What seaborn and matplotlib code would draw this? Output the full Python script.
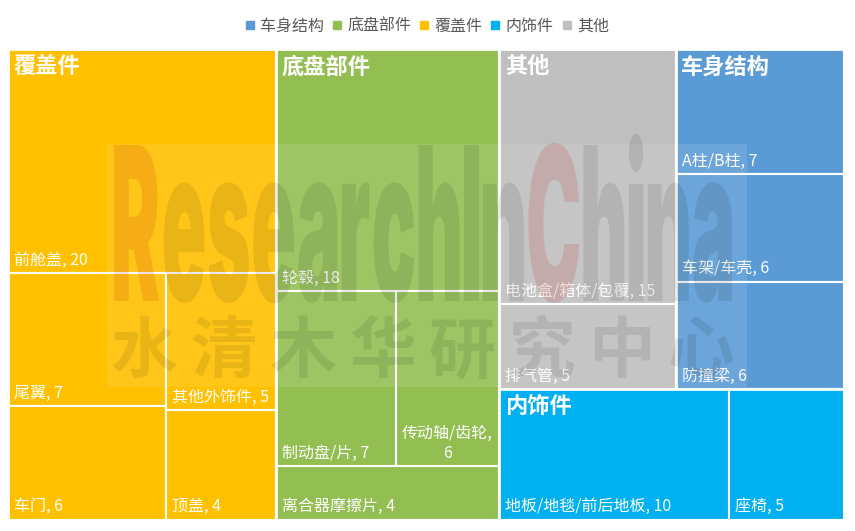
import matplotlib
matplotlib.use("Agg")
import matplotlib.pyplot as plt
import seaborn as sns
import pandas as pd
from matplotlib import font_manager
from matplotlib.patches import Rectangle, PathPatch
from matplotlib.lines import Line2D
from matplotlib.textpath import TextPath
from matplotlib.font_manager import FontProperties
from matplotlib.transforms import Affine2D

# categories (legend order) and their colours
categories = ["车身结构", "底盘部件", "覆盖件", "内饰件", "其他"]
cat_colors = ["#5B9BD5", "#93BF52", "#FFC000", "#00B0F0", "#BFBFBF"]

# leaf parts, their category and count
parts = ["A柱/B柱", "车架/车壳", "防撞梁",
         "轮毂", "制动盘/片", "传动轴/齿轮", "离合器摩擦片",
         "前舱盖", "尾翼", "其他外饰件", "车门", "顶盖",
         "地板/地毯/前后地板", "座椅",
         "电池盒/箱体/包覆", "排气管"]
part_cat = ["车身结构"] * 3 + ["底盘部件"] * 4 + ["覆盖件"] * 5 + ["内饰件"] * 2 + ["其他"] * 2
counts = [7, 6, 6, 18, 7, 6, 4, 20, 7, 5, 6, 4, 10, 5, 15, 5]

df = pd.DataFrame({"part": parts, "cat": part_cat, "n": counts})

# layout area (in layout units, close to the plot's aspect)
W, H = 1.81, 1.0


def worst(row, side):
    s = sum(row)
    return max(max(side * side * r / (s * s), s * s / (side * side * r)) for r in row)


def squarify(values, x, y, dx, dy):
    # values must be sorted descending; returns one rect per value
    tot = sum(values)
    vals = [v * dx * dy / tot for v in values]
    rects = []
    while vals:
        side = min(dx, dy)
        row = [vals[0]]
        i = 1
        while i < len(vals) and worst(row + [vals[i]], side) <= worst(row, side):
            row.append(vals[i])
            i += 1
        vals = vals[i:]
        s = sum(row)
        if dx >= dy:
            cw = s / dy
            yy = y
            for r in row:
                rects.append((x, yy, cw, r / cw))
                yy += r / cw
            x += cw
            dx -= cw
        else:
            rh = s / dx
            xx = x
            for r in row:
                rects.append((xx, y, r / rh, rh))
                xx += r / rh
            y += rh
            dy -= rh
    return rects


def heaviest_font(families):
    best, best_w = None, -1
    for f in font_manager.fontManager.ttflist:
        if f.name in families and f.style == "normal":
            w = f.weight
            if isinstance(w, str):
                w = font_manager.weight_dict.get(w, 400)
            if w > best_w:
                best, best_w = f.fname, w
    return FontProperties(fname=best) if best else FontProperties(weight="bold")


sns.set_theme(style="white")
plt.rcParams["font.family"] = ["Noto Sans CJK SC", "DejaVu Sans"]
palette = dict(zip(categories, sns.color_palette(cat_colors)))

fig = plt.figure(figsize=(8.55, 5.31), dpi=100)
ax = fig.add_axes([8 / 855, 11 / 531, 836 / 855, 471 / 531])
ax.set_xlim(0, W)
ax.set_ylim(H, 0)
ax.axis("off")

totals = df.groupby("cat", sort=False)["n"].sum()
totals = totals.sort_values(ascending=False, kind="stable")
group_rects = squarify(list(totals.values), 0, 0, W, H)

leaf_texts = []
for cat, (gx, gy, gw, gh) in zip(totals.index, group_rects):
    sub = df[df["cat"] == cat].sort_values("n", ascending=False, kind="stable")
    for (_, r), (x, y, w, h) in zip(sub.iterrows(), squarify(list(sub["n"]), gx, gy, gw, gh)):
        ax.add_patch(Rectangle((x, y), w, h, facecolor=palette[cat],
                               edgecolor="white", lw=1.5))
        t = ax.annotate(f"{r['part']}, {r['n']}", xy=(x, y + h), xytext=(4.0, 3.3),
                        textcoords="offset points", ha="left", va="bottom",
                        fontsize=11.5, color="white")
        leaf_texts.append((t, w, r))
    ax.add_patch(Rectangle((gx, gy), gw, gh, fill=False, edgecolor="white", lw=2))
    ax.annotate(cat, xy=(gx, gy), xytext=(3.8, -4.5), textcoords="offset points",
                ha="left", va="top", fontsize=16, fontweight="bold", color="white")

# wrap labels that do not fit their box
fig.canvas.draw()
renderer = fig.canvas.get_renderer()
px_per_unit = ax.get_window_extent().width / W
for t, w, r in leaf_texts:
    if t.get_window_extent(renderer).width > w * px_per_unit - 10:
        t.set_text(f"{r['part']},\n{r['n']}")
        t.set_multialignment("center")

handles = [Line2D([], [], marker="s", ls="", color=palette[c], markersize=6)
           for c in categories]
fig.legend(handles, categories, loc="center", bbox_to_anchor=(0.5, 1 - 26 / 531),
           ncol=5, frameon=False, fontsize=11.5, handlelength=0.5,
           handletextpad=0.4, columnspacing=0.55, labelcolor="#595959")

# watermark overlay (pixel coordinates)
wm = fig.add_axes([0, 0, 1, 1], zorder=5)
wm.set_xlim(0, 855)
wm.set_ylim(531, 0)
wm.axis("off")
wm.add_patch(Rectangle((107, 144), 640, 243, facecolor="white", alpha=0.1, lw=0))

word = "ResearchInChina"
prop = heaviest_font(["Lato", "Roboto", "Open Sans", "Inter", "Noto Sans", "DejaVu Sans"])
gap = 0.06
glyphs, cursor = [], 0.0
for i, ch in enumerate(word):
    p = TextPath((0, 0), ch, size=1, prop=prop)
    ext = p.get_extents()
    glyphs.append((i, p, cursor - ext.x0))
    cursor += ext.width + gap
cap = TextPath((0, 0), "R", size=1, prop=prop).get_extents().height
sx, sy = 618 / (cursor - gap), 156 / cap
for i, p, off in glyphs:
    tr = Affine2D().translate(off, 0).scale(sx, -sy).translate(114, 301)
    red = i in (0, 10)
    wm.add_patch(PathPatch(tr.transform_path(p), lw=0,
                           facecolor="#C00000" if red else "#000000",
                           alpha=0.13 if red else 0.09))

for i, ch in enumerate("水清木华研究中心"):
    wm.text(144 + i * 79.5, 353, ch, ha="center", va="center", fontsize=48,
            fontweight="bold", color="#000000", alpha=0.09)

fig.savefig("out.png", dpi=100)
